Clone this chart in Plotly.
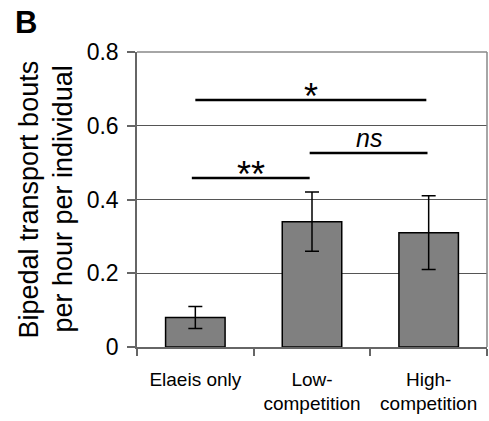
import plotly.graph_objects as go

categories = ["Elaeis only", "Low-<br>competition", "High-<br>competition"]
values = [0.08, 0.34, 0.31]
err_plus = [0.03, 0.08, 0.10]
err_minus = [0.03, 0.08, 0.10]
y_ticks = [0, 0.2, 0.4, 0.6, 0.8]
y_tick_labels = ["0", "0.2", "0.4", "0.6", "0.8"]

# significance brackets: (x0, x1, y, label, italic)
sig = [
    (0.0, 1.98, 0.67, "*", False),
    (-0.03, 0.98, 0.458, "**", False),
    (0.98, 1.99, 0.526, "ns", True),
]

xs = [0, 1, 2]
fig = go.Figure()
fig.add_trace(go.Bar(
    x=xs, y=values, width=0.51,
    marker=dict(color="#808080", line=dict(color="black", width=1.5)),
    error_y=dict(type="data", array=err_plus, arrayminus=err_minus,
                 color="black", thickness=1.5, width=7),
))

for x0, x1, y, lab, it in sig:
    fig.add_shape(type="line", x0=x0, x1=x1, y0=y, y1=y, xref="x", yref="y",
                  line=dict(color="black", width=2.5))
    if it:
        fig.add_annotation(x=(x0 + x1) / 2, y=y, xref="x", yref="y", text=f"<i>{lab}</i>",
                           showarrow=False, yanchor="bottom", yshift=-1,
                           font=dict(size=25, color="black"))
    else:
        fig.add_annotation(x=(x0 + x1) / 2, y=y, xref="x", yref="y", text=lab,
                           showarrow=False, yanchor="bottom", yshift=-19,
                           font=dict(size=36, color="black"))

fig.add_annotation(xref="paper", yref="paper", x=(28 - 137) / 350, y=0.5,
                   text="Bipedal transport bouts",
                   textangle=-90, showarrow=False, font=dict(size=27, color="black"),
                   xanchor="center", yanchor="middle")
fig.add_annotation(xref="paper", yref="paper", x=(62 - 137) / 350, y=0.5,
                   text="per hour per individual",
                   textangle=-90, showarrow=False, font=dict(size=27, color="black"),
                   xanchor="center", yanchor="middle")
fig.add_annotation(xref="paper", yref="paper", x=(25.5 - 137) / 350, y=(347 - 22) / 295,
                   text="<b>B</b>",
                   showarrow=False, font=dict(size=31, color="black"),
                   xanchor="center", yanchor="middle")

fig.update_layout(
    width=489, height=421,
    margin=dict(l=137, r=2, t=52, b=74),
    plot_bgcolor="white", paper_bgcolor="white",
    font=dict(family="Liberation Sans, Arial, sans-serif", color="black"),
    showlegend=False,
    xaxis=dict(
        range=[-0.5, 2.5], tickvals=xs, ticktext=categories, ticks="",
        tickfont=dict(size=19), showgrid=False, showline=True,
        linecolor="#666", linewidth=1.5, mirror=False, zeroline=False,
        ticklabelstandoff=14,
        minor=dict(tickvals=[-0.5, 0.5, 1.5, 2.5], ticks="outside", ticklen=7,
                   tickcolor="#666", tickwidth=1.5, showgrid=False),
    ),
    yaxis=dict(
        range=[0, 0.8], tickvals=y_ticks, ticktext=y_tick_labels,
        tickfont=dict(size=23), ticks="outside", ticklen=8, tickcolor="#666",
        tickwidth=1.5, showgrid=True, gridcolor="#555", gridwidth=1,
        showline=True, linecolor="#666", linewidth=1.5, zeroline=False,
        ticklabelstandoff=4,
    ),
)
fig.add_shape(type="line", xref="paper", yref="paper", x0=1, x1=1, y0=0, y1=1,
              line=dict(color="#888", width=1.5))
fig.add_shape(type="line", xref="paper", yref="paper", x0=0, x1=1, y0=1, y1=1,
              line=dict(color="#888", width=1.5))
fig.write_html("out.html")
